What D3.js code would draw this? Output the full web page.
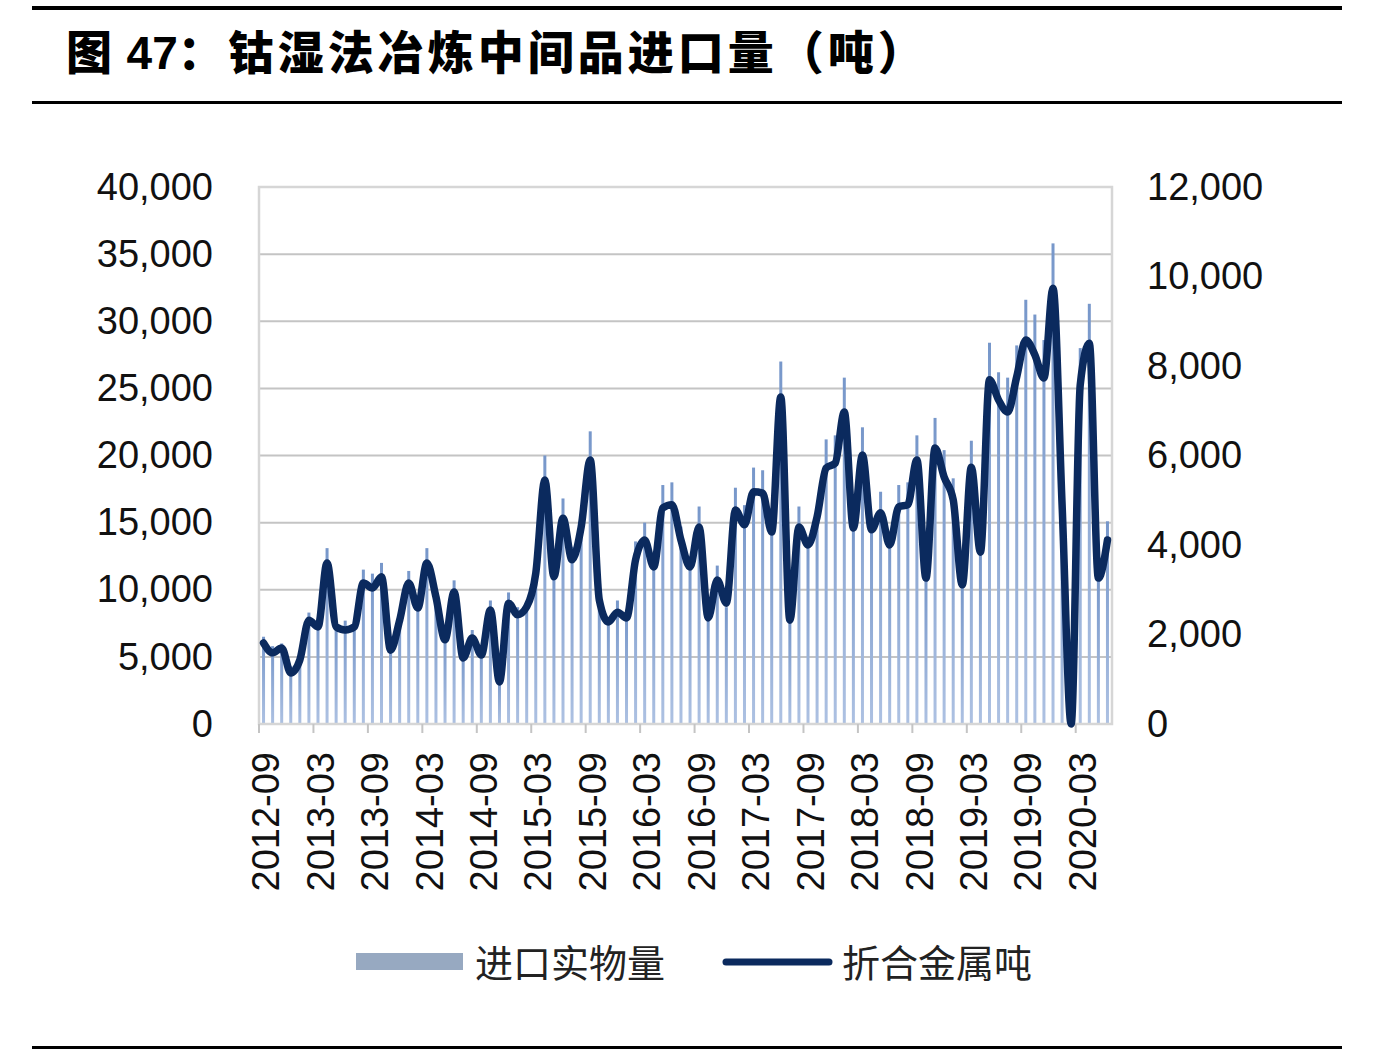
<!DOCTYPE html>
<html>
<head>
<meta charset="utf-8">
<script src="https://cdn.jsdelivr.net/npm/d3@7"></script>
<style>
  body { margin: 0; background: #fff; }
  svg { display: block; }
</style>
</head>
<body>
<svg id="chart" width="1380" height="1052"></svg>
<script>
// months from 2012-09 to 2020-06
const months = d3.timeMonths(new Date(2012, 8, 1), new Date(2020, 6, 1)).map(d3.timeFormat("%Y-%m"));

const tickLabels = ["2012-09", "2013-03", "2013-09", "2014-03", "2014-09", "2015-03", "2015-09", "2016-03",
    "2016-09", "2017-03", "2017-09", "2018-03", "2018-09", "2019-03", "2019-09", "2020-03"];

// 进口实物量 (tonnes, left axis)
const physical = [6500, 5800, 6000, 4300, 5100, 8300, 7500, 13100, 7000, 7700, 7300, 11500,
    11200, 12000, 6300, 8000, 11400, 9000, 13100, 9800, 6500, 10700, 5300, 7000,
    5700, 9200, 3400, 9800, 8700, 9000, 11700, 20000, 11300, 16800, 13200, 15000,
    21800, 9500, 7800, 9200, 8300, 13600, 15000, 12200, 17800, 18000, 14700, 12200,
    16200, 7800, 11800, 8700, 17600, 16300, 19100, 18900, 14200, 27000, 7500, 16200,
    13700, 16000, 21200, 21500, 25800, 14700, 22100, 15000, 17300, 13700, 17800, 18000,
    21500, 11000, 22800, 20400, 18300, 10500, 21100, 13000, 28400, 26200, 25800, 28200,
    31600, 30500, 28600, 35800, 17000, 0, 28000, 31300, 11000, 15100];

// 折合金属吨 (right axis)
const metal = [1810, 1590, 1700, 1140, 1430, 2320, 2170, 3600, 2170, 2100, 2170, 3150,
    3040, 3290, 1650, 2320, 3150, 2590, 3600, 2840, 1880, 2950, 1475, 1920,
    1540, 2550, 940, 2700, 2440, 2620, 3370, 5450, 3290, 4600, 3670, 4400,
    5900, 2770, 2280, 2500, 2370, 3670, 4110, 3510, 4830, 4900, 4110, 3510,
    4400, 2370, 3220, 2700, 4780, 4450, 5190, 5160, 4290, 7310, 2320, 4400,
    4000, 4630, 5720, 5830, 6970, 4380, 6010, 4340, 4720, 4000, 4850, 4900,
    5900, 3260, 6170, 5520, 5010, 3110, 5740, 3840, 7690, 7240, 6970, 7760,
    8580, 8250, 7730, 9740, 4900, 0, 7580, 8510, 3260, 4110];

const leftTicks = [0, 5000, 10000, 15000, 20000, 25000, 30000, 35000, 40000];
const rightTicks = [0, 2000, 4000, 6000, 8000, 10000, 12000];
const seriesNames = ["进口实物量", "折合金属吨"];

const svg = d3.select("#chart");
const plotL = 259, plotR = 1112, plotT = 187, plotB = 724;
const numFont = "'Liberation Sans', Arial, sans-serif";
const cjkFont = "'Noto Sans CJK SC', sans-serif";

const x = d3.scaleBand().domain(d3.range(months.length)).range([plotL, plotR]);
const yL = d3.scaleLinear().domain([0, 40000]).range([plotB, plotT]);
const yR = d3.scaleLinear().domain([0, 12000]).range([plotB, plotT]);
const bw = x.bandwidth();

// rules and title
svg.append("rect").attr("x", 32).attr("y", 6).attr("width", 1310).attr("height", 4).attr("fill", "#000");
svg.append("rect").attr("x", 32).attr("y", 101).attr("width", 1310).attr("height", 3).attr("fill", "#000");
svg.append("rect").attr("x", 32).attr("y", 1046).attr("width", 1310).attr("height", 3).attr("fill", "#000");

const title = svg.append("text")
    .attr("x", 66).attr("y", 69)
    .attr("font-family", cjkFont)
    .attr("font-weight", 900)
    .attr("font-size", 46)
    .attr("fill", "#000");
title.append("tspan").text("图 ");
title.append("tspan").attr("font-family", numFont).attr("font-weight", 700).attr("dx", 4).text("47");
title.append("tspan").attr("letter-spacing", 4).text("：钴湿法冶炼中间品进口量（吨）");

// bar gradient
const grad = svg.append("defs").append("linearGradient")
    .attr("id", "barGrad").attr("x1", 0).attr("y1", 0).attr("x2", 0).attr("y2", 1);
grad.append("stop").attr("offset", "0%").attr("stop-color", "#7797ca");
grad.append("stop").attr("offset", "100%").attr("stop-color", "#adc1e2");

// gridlines
svg.append("g")
    .selectAll("line")
    .data(leftTicks.filter(d => d > 0))
    .join("line")
    .attr("x1", plotL).attr("x2", plotR)
    .attr("y1", d => yL(d)).attr("y2", d => yL(d))
    .attr("stroke", "#c4c4c4")
    .attr("stroke-width", 2);

// bars
svg.append("g")
    .selectAll("rect")
    .data(physical)
    .join("rect")
    .attr("x", (d, i) => x(i) + bw / 2 - 1.5)
    .attr("y", d => yL(d))
    .attr("width", 3)
    .attr("height", d => plotB - yL(d))
    .attr("fill", "url(#barGrad)");

// plot border
svg.append("rect")
    .attr("x", plotL).attr("y", plotT)
    .attr("width", plotR - plotL).attr("height", plotB - plotT)
    .attr("fill", "none")
    .attr("stroke", "#d6d6d6")
    .attr("stroke-width", 2.5);

// x ticks
svg.append("g")
    .selectAll("line")
    .data(d3.range(0, months.length, 6))
    .join("line")
    .attr("x1", i => x(i)).attr("x2", i => x(i))
    .attr("y1", plotB).attr("y2", plotB + 9)
    .attr("stroke", "#c4c4c4")
    .attr("stroke-width", 2);

// x labels
svg.append("g")
    .selectAll("text")
    .data(tickLabels)
    .join("text")
    .attr("transform", d => `translate(${x(months.indexOf(d)) + bw / 2 + 2},752) rotate(-90)`)
    .attr("text-anchor", "end")
    .attr("dy", "0.36em")
    .attr("font-family", numFont)
    .attr("font-size", 38)
    .attr("fill", "#111")
    .text(d => d);

// metal line
svg.append("path")
    .datum(metal)
    .attr("fill", "none")
    .attr("stroke", "#0b2a5e")
    .attr("stroke-width", 7.5)
    .attr("stroke-linejoin", "round")
    .attr("stroke-linecap", "round")
    .attr("d", d3.line()
        .x((d, i) => x(i) + bw / 2)
        .y(d => yR(d))
        .curve(d3.curveMonotoneX));

// left axis
const axL = svg.append("g")
    .attr("transform", `translate(${plotL},0)`)
    .call(d3.axisLeft(yL).tickValues(leftTicks).tickFormat(d3.format(",")).tickSize(0).tickPadding(46));
axL.select(".domain").remove();
axL.selectAll("text")
    .attr("font-family", numFont)
    .attr("font-size", 38)
    .attr("fill", "#111");

// right axis
const axR = svg.append("g")
    .attr("transform", `translate(${plotR},0)`)
    .call(d3.axisRight(yR).tickValues(rightTicks).tickFormat(d3.format(",")).tickSize(0).tickPadding(35));
axR.select(".domain").remove();
axR.selectAll("text")
    .attr("font-family", numFont)
    .attr("font-size", 38)
    .attr("fill", "#111");

// legend
const lg = svg.append("g");
lg.append("rect").attr("x", 356).attr("y", 953).attr("width", 107).attr("height", 17).attr("fill", "#97a9c1");
lg.append("text").attr("x", 475).attr("y", 963).attr("dy", "0.36em")
    .attr("font-family", cjkFont).attr("font-size", 38).attr("fill", "#222")
    .text(seriesNames[0]);
lg.append("line").attr("x1", 726).attr("x2", 829).attr("y1", 962).attr("y2", 962)
    .attr("stroke", "#0b2a5e").attr("stroke-width", 7).attr("stroke-linecap", "round");
lg.append("text").attr("x", 842).attr("y", 963).attr("dy", "0.36em")
    .attr("font-family", cjkFont).attr("font-size", 38).attr("fill", "#222")
    .text(seriesNames[1]);
</script>
</body>
</html>
